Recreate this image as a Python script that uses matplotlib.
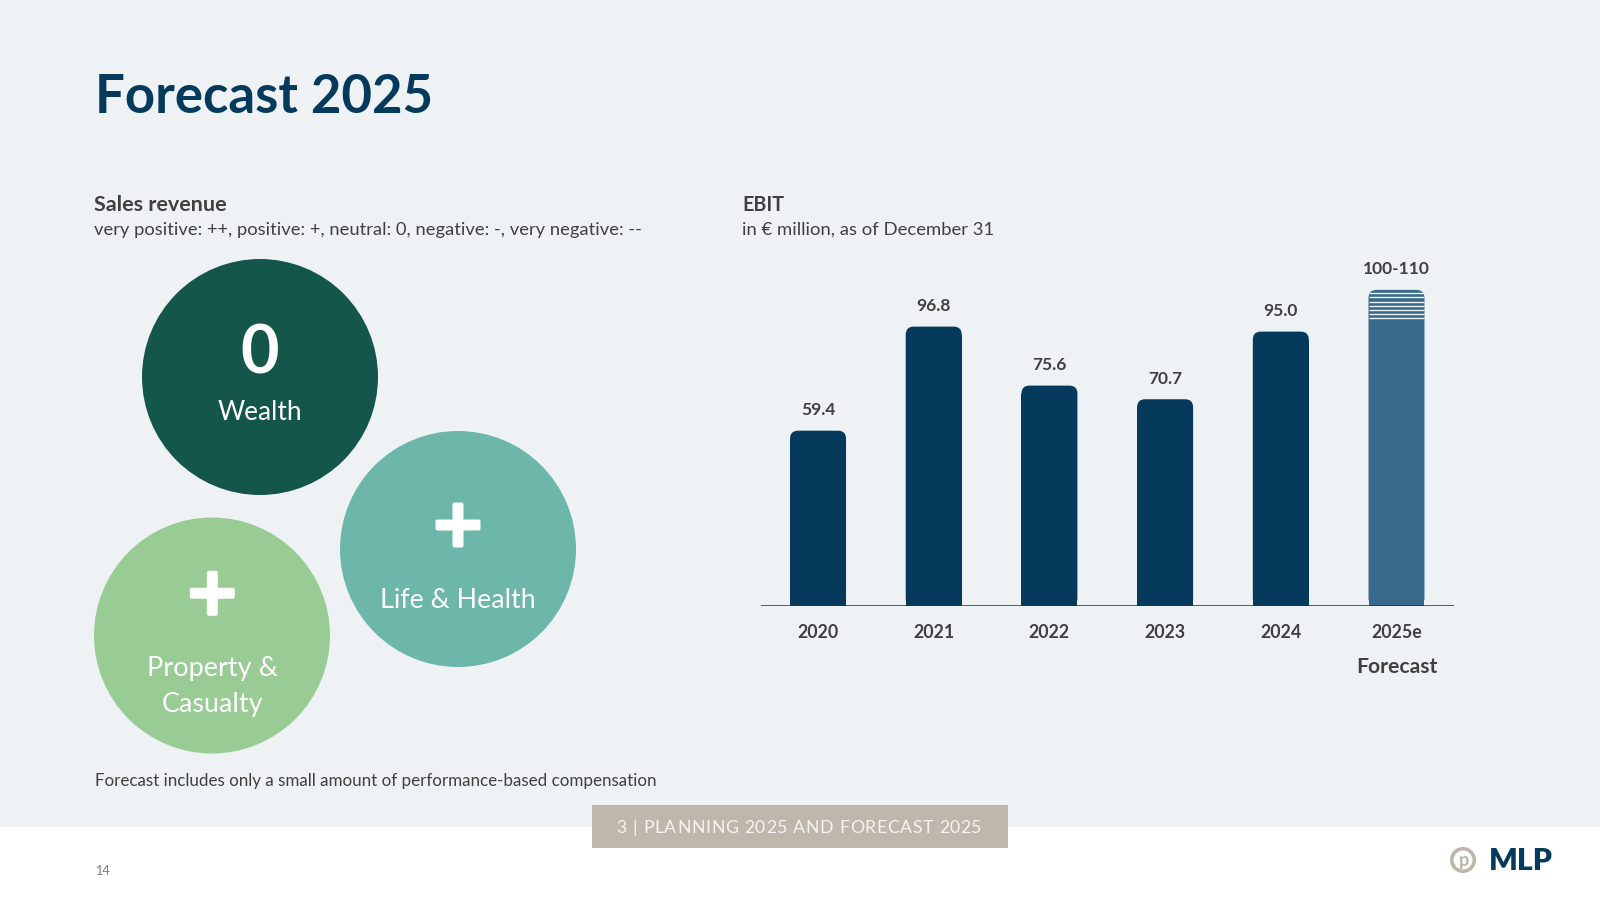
import numpy as np
import matplotlib
matplotlib.use("Agg")
import matplotlib.pyplot as plt
from matplotlib.patches import Circle, Rectangle, FancyBboxPatch
from matplotlib.font_manager import FontProperties

plt.rcParams['font.family'] = ['Lato', 'DejaVu Sans']

# ---------------- data ----------------
years = ['2020', '2021', '2022', '2023', '2024', '2025e']
ebit = [59.4, 96.8, 75.6, 70.7, 95.0]
forecast_low = 100
forecast_high = 110
value_labels = ['59.4', '96.8', '75.6', '70.7', '95.0', '100-110']

segments = ['Wealth', 'Life & Health', 'Property &\nCasualty']
ratings = ['0', '+', '+']

# ---------------- style ----------------
BG = '#eef2f5'
NAVY = '#053a5c'
FORECAST = '#386b8b'
GREY_TXT = '#404040'
SEG_COLORS = ['#15564b', '#6db6aa', '#99cb95']

fig = plt.figure(figsize=(16, 9), dpi=100, facecolor=BG)
renderer = fig.canvas.get_renderer()

bg = fig.add_axes([0, 0, 1, 1])
bg.set_xlim(0, 1600)
bg.set_ylim(900, 0)
bg.axis('off')
bg.patch.set_alpha(0)

bg.add_patch(Rectangle((0, 826.7), 1600, 73.3, fc='white', ec='none'))


def fit(t, target_w):
    w = t.get_window_extent(renderer).width
    t.set_fontsize(t.get_fontsize() * target_w / w)
    return t


# ---------------- headings ----------------
fit(bg.text(95, 112.7, 'Forecast 2025', fontsize=40, fontweight='bold', color=NAVY,
            ha='left', va='baseline'), 338)
fit(bg.text(94.5, 211, 'Sales revenue', fontsize=16, fontweight='bold', color=GREY_TXT,
            ha='left', va='baseline'), 133)
fit(bg.text(94.5, 235, 'very positive: ++, positive: +, neutral: 0, negative: -, very negative: --',
            fontsize=12, color=GREY_TXT, ha='left', va='baseline'), 547)
fit(bg.text(742, 211, 'EBIT', fontsize=16, fontweight='bold', color=GREY_TXT,
            ha='left', va='baseline'), 42)
fit(bg.text(742, 235, 'in € million, as of December 31', fontsize=12, color=GREY_TXT,
            ha='left', va='baseline'), 251)
fit(bg.text(95, 786, 'Forecast includes only a small amount of performance-based compensation',
            fontsize=12, color=GREY_TXT, ha='left', va='baseline'), 561)

# ---------------- segment circles ----------------
circ_centers = [(260, 377), (458, 549), (212, 635.5)]
R = 118
for (cx, cy), col in zip(circ_centers, SEG_COLORS):
    bg.add_patch(Circle((cx, cy), R, fc=col, ec='none'))


def plus(cx, cy, size=45, th=11):
    bg.add_patch(FancyBboxPatch((cx - size / 2, cy - th / 2), size, th,
                                boxstyle='round,pad=0,rounding_size=2', fc='white', ec='none'))
    bg.add_patch(FancyBboxPatch((cx - th / 2, cy - size / 2), th, size,
                                boxstyle='round,pad=0,rounding_size=2', fc='white', ec='none'))


# Wealth
bg.text(260, 373.3, ratings[0], fontsize=48, fontweight='bold', color='white',
        ha='center', va='baseline')
fit(bg.text(260, 420, segments[0], fontsize=20, color='white', ha='center', va='baseline'), 84.7)
# Life & Health
plus(458, 525)
fit(bg.text(458, 608.3, segments[1], fontsize=20, color='white', ha='center', va='baseline'), 156)
# Property & Casualty
plus(212.3, 593.3)
l1, l2 = segments[2].split('\n')
fit(bg.text(212.3, 675.7, l1, fontsize=20, color='white', ha='center', va='baseline'), 131)
fit(bg.text(212.5, 711.7, l2, fontsize=20, color='white', ha='center', va='baseline'), 101.7)

# ---------------- EBIT chart ----------------
line_y = 606      # pixel row of the category axis line
zero_y = 596      # pixel row of value 0
top_y = 250
px_per_unit = 2.783
ymin = -(line_y - zero_y) / px_per_unit
ymax = (zero_y - top_y) / px_per_unit
ax = fig.add_axes([761 / 1600, (900 - line_y) / 900, 693 / 1600, (line_y - top_y) / 900])
ax.set_xlim(-0.493, 5.497)
ax.set_ylim(ymin, ymax)
ax.axis('off')
ax.patch.set_alpha(0)

bar_w = 0.484
x = np.arange(len(years))


def rounded_bar(xc, h, color, r_px=8):
    p0 = ax.transData.transform((0, 0))
    p1 = ax.transData.transform((1, 1))
    sx, sy = p1[0] - p0[0], p1[1] - p0[1]
    rx, ry = r_px / sx, r_px / sy
    ax.add_patch(FancyBboxPatch((xc - bar_w / 2, ymin), bar_w, h - ymin,
                                boxstyle=f'round,pad=0,rounding_size={rx}',
                                mutation_aspect=ry / rx, fc=color, ec='none', zorder=2))
    ax.add_patch(Rectangle((xc - bar_w / 2, ymin), bar_w, h - ymin - ry, fc=color, ec='none',
                           zorder=2))


for i, v in enumerate(ebit):
    rounded_bar(x[i], v, NAVY)

# forecast bar: solid + striped range
rounded_bar(x[5], forecast_high, FORECAST)
gaps = np.linspace(forecast_low - 0.2, forecast_high - 1.2, 7)
ax.hlines(gaps, x[5] - bar_w / 2, x[5] + bar_w / 2, color=BG, lw=1.0, zorder=3)

ax.axhline(ymin, color=NAVY, lw=1.8, zorder=4)

# value labels
t0 = ax.annotate(value_labels[0], (x[0], ebit[0]), xytext=(0, 11.3), textcoords='offset points',
                 ha='center', va='baseline', fontsize=12, fontweight='bold', color=GREY_TXT)
fit(t0, 34.5)
vfs = t0.get_fontsize()
tops = ebit + [forecast_high]
for i in range(1, len(value_labels)):
    ax.annotate(value_labels[i], (x[i], tops[i]), xytext=(0, 11.3), textcoords='offset points',
                ha='center', va='baseline', fontsize=vfs, fontweight='bold', color=GREY_TXT)

# year labels
ty = ax.annotate(years[0], (x[0], ymin), xytext=(0, -23), textcoords='offset points',
                 ha='center', va='baseline', fontsize=12, fontweight='bold', color=GREY_TXT)
fit(ty, 41)
yfs = ty.get_fontsize()
for i in range(1, len(years)):
    ax.annotate(years[i], (x[i], ymin), xytext=(0, -23), textcoords='offset points',
                ha='center', va='baseline', fontsize=yfs, fontweight='bold', color=GREY_TXT)
fit(ax.annotate('Forecast', (x[5], ymin), xytext=(0, -48.2), textcoords='offset points',
                ha='center', va='baseline', fontsize=14, fontweight='bold', color=GREY_TXT), 81.6)

# ---------------- footer ----------------
bg.add_patch(Rectangle((592, 805), 416, 42.7, fc='#bfb7ac', ec='none'))
footer = '3 | PLANNING 2025 AND FORECAST 2025'
ffs = 12.7
fp = FontProperties(family='Lato', size=ffs)


def tw(s):
    return renderer.get_text_width_height_descent(s, fp, ismath=False)[0]


W = tw(footer)
target = 365
sp = (target - W) / (len(footer) - 1)
x0 = 799.2 - target / 2
wX = tw('X')
for k, ch in enumerate(footer):
    if ch == ' ':
        continue
    xk = x0 + (tw(footer[:k] + 'X') - wX) + k * sp
    bg.text(xk, 833.3, ch, fontproperties=fp, color='#f6f4f1', ha='left', va='baseline')

fit(bg.text(95, 875, '14', fontsize=9, color='#7f7f7f', ha='left', va='baseline'), 15)

# logo
bg.add_patch(Circle((1463, 860), 13, fc='#bdb5aa', ec='none'))
bg.add_patch(Circle((1463, 860), 9.5, fc='white', ec='none'))
bg.text(1463.5, 866, 'p', fontsize=13, fontweight='bold', color='#bdb5aa', ha='center', va='baseline')
fit(bg.text(1489, 870.5, 'MLP', fontsize=20, fontweight='heavy', color=NAVY, ha='left',
            va='baseline'), 64)

fig.savefig('out.png', dpi=100, facecolor=BG)
